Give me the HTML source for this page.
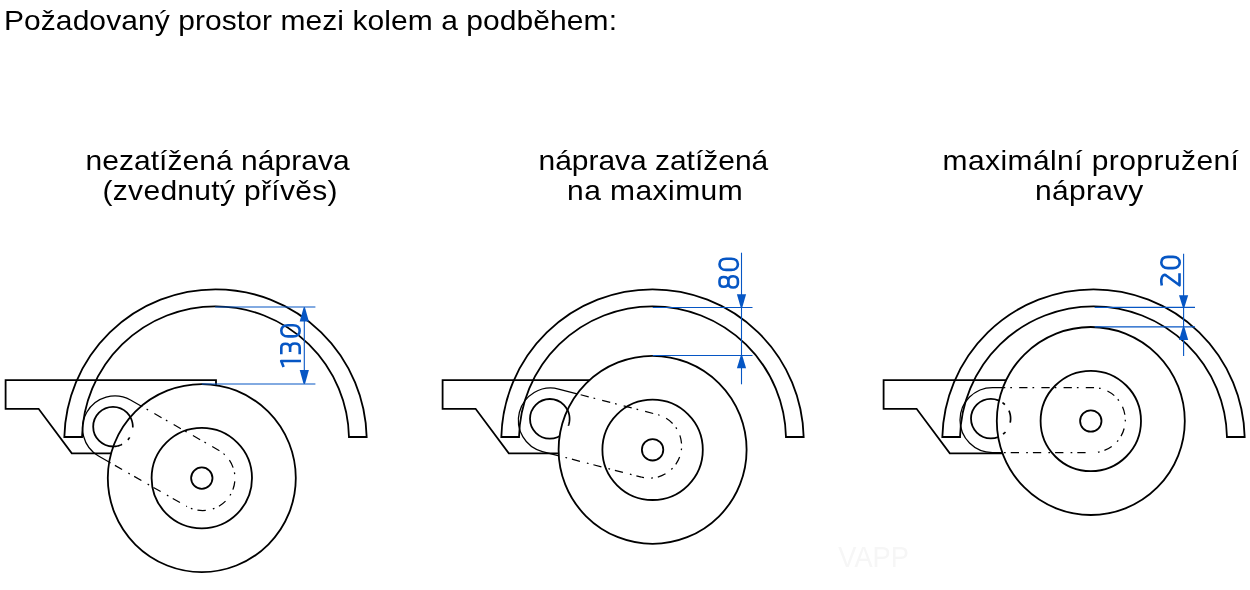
<!DOCTYPE html><html><head><meta charset="utf-8"><style>html,body{margin:0;padding:0;background:#fff;width:1250px;height:590px;overflow:hidden}svg{display:block;will-change:transform}</style></head><body>
<svg width="1250" height="590" viewBox="0 0 1250 590">
<rect width="1250" height="590" fill="#fff"/>
<g font-family="Liberation Sans, sans-serif" font-size="30" fill="#000">
<text transform="translate(4.0,30) scale(1,0.95)" x="0" y="0" textLength="612.99" lengthAdjust="spacing">Požadovaný prostor mezi kolem a podběhem:</text>
<text transform="translate(85.5,170) scale(1,0.95)" x="0" y="0" textLength="264.17" lengthAdjust="spacing">nezatížená náprava</text>
<text transform="translate(102.5,200) scale(1,0.95)" x="0" y="0" textLength="234.98" lengthAdjust="spacing">(zvednutý přívěs)</text>
<text transform="translate(538.5,170) scale(1,0.95)" x="0" y="0" textLength="229.73" lengthAdjust="spacing">náprava zatížená</text>
<text transform="translate(567.0,200) scale(1,0.95)" x="0" y="0" textLength="175.72" lengthAdjust="spacing">na maximum</text>
<text transform="translate(942.5,170) scale(1,0.95)" x="0" y="0" textLength="296.47" lengthAdjust="spacing">maximální propružení</text>
<text transform="translate(1035.0,200) scale(1,0.95)" x="0" y="0" textLength="108.37" lengthAdjust="spacing">nápravy</text>
</g>
<text x="838.3" y="567" textLength="70.5" lengthAdjust="spacingAndGlyphs" font-family="Liberation Sans, sans-serif" font-size="29" fill="#f6f6f6">VAPP</text>
<clipPath id="wc0"><circle cx="201.8" cy="478.1" r="94.0"/></clipPath>
<path d="M5.60,380.10 L216.00,380.10 L216.00,453.40 L71.80,453.40 L38.60,408.80 L5.60,408.80 Z" fill="none" stroke="#000" stroke-width="1.8" stroke-linejoin="miter"/>
<path d="M64.34,437.0 A151.2,151.2 0 0 1 366.66,437.0 L348.97,437.0 A133.5,133.5 0 0 0 82.03,437.0 Z" fill="none" stroke="#000" stroke-width="1.8" stroke-linejoin="miter"/>
<path d="M130.51,399.95 L219.01,450.45 A32.3,32.3 0 0 1 186.99,506.55 L98.49,456.05 A32.3,32.3 0 0 1 130.51,399.95 Z" fill="none" stroke="#000" stroke-width="1.25"/>
<circle cx="113" cy="426.7" r="19.8" fill="none" stroke="#000" stroke-width="1.8"/>
<circle cx="201.8" cy="478.1" r="94.0" fill="#fff" stroke="none"/>
<g clip-path="url(#wc0)">
<path d="M130.51,399.95 L219.01,450.45 A32.3,32.3 0 0 1 186.99,506.55" fill="none" stroke="#000" stroke-width="1.25" stroke-dasharray="8.3 5.0 1.7 7.2" stroke-dashoffset="16.93"/>
<path d="M186.99,506.55 L98.49,456.05 A32.3,32.3 0 0 1 130.51,399.95" fill="none" stroke="#000" stroke-width="1.25" stroke-dasharray="8.3 5.0 1.7 7.2" stroke-dashoffset="14.10"/>
<path d="M100.30,411.51 L100.97,410.97 L101.67,410.46 L102.39,409.98 L103.13,409.54 L103.89,409.12 L104.66,408.74 L105.45,408.39 L106.26,408.08 L107.08,407.81 L107.91,407.57 L108.75,407.36 L109.60,407.19 L110.45,407.06 L111.31,406.97 L112.17,406.92 L113.03,406.90 L113.90,406.92 L114.76,406.98 L115.62,407.07 L116.47,407.21 L117.32,407.38 L118.16,407.58 L118.99,407.83 L119.80,408.11 L120.61,408.42 L121.40,408.77 L122.17,409.15 L122.93,409.57 L123.67,410.02 L124.39,410.50 L125.08,411.01 L125.75,411.55 L126.40,412.13 L127.03,412.72 L127.62,413.35 L128.19,414.00 L128.73,414.67 L129.24,415.37 L129.72,416.09 L130.16,416.83 L130.58,417.59 L130.96,418.36 L131.31,419.15 L131.62,419.96 L131.89,420.78 L132.13,421.61 L132.34,422.45 L132.51,423.30 L132.64,424.15 L132.73,425.01 L132.78,425.87 L132.80,426.73 L132.78,427.60 L132.72,428.46 L132.63,429.32 L132.49,430.17 L132.32,431.02 L132.12,431.86 L131.87,432.69 L131.59,433.50 L131.28,434.31 L130.93,435.10 L130.55,435.87 L130.13,436.63 L129.68,437.37 L129.20,438.09 L128.69,438.78 L128.15,439.45 L127.57,440.10 L126.98,440.73 L126.35,441.32 L125.70,441.89 L125.03,442.43 L124.33,442.94 L123.61,443.42 L122.87,443.86 L122.11,444.28 L121.34,444.66 L120.55,445.01 L119.74,445.32 L118.92,445.59 L118.09,445.83 L117.25,446.04 L116.40,446.21 L115.55,446.34 L114.69,446.43 L113.83,446.48 L112.97,446.50 L112.10,446.48 L111.24,446.42 L110.38,446.33 L109.53,446.19 L108.68,446.02 L107.84,445.82 L107.01,445.57 L106.20,445.29 L105.39,444.98 L104.60,444.63 L103.83,444.25 L103.07,443.83 L102.33,443.38 L101.61,442.90 L100.92,442.39 L100.25,441.85 L99.60,441.27 L98.97,440.68 L98.38,440.05 L97.81,439.40 L97.27,438.73 L96.76,438.03 L96.28,437.31 L95.84,436.57 L95.42,435.81 L95.04,435.04 L94.69,434.25 L94.38,433.44 L94.11,432.62 L93.87,431.79 L93.66,430.95 L93.49,430.10" fill="none" stroke="#000" stroke-width="1.7" stroke-dasharray="12.3 10.5 3.2 7.3"/>
</g>
<circle cx="201.8" cy="478.1" r="94.0" fill="none" stroke="#000" stroke-width="1.8"/>
<circle cx="201.8" cy="478.1" r="50.2" fill="none" stroke="#000" stroke-width="1.8"/>
<circle cx="201.8" cy="478.1" r="10.7" fill="none" stroke="#000" stroke-width="1.8"/>
<clipPath id="wc1"><circle cx="652.6" cy="449.8" r="94.0"/></clipPath>
<path d="M442.60,380.10 L653.00,380.10 L653.00,453.40 L508.80,453.40 L475.60,408.80 L442.60,408.80 Z" fill="none" stroke="#000" stroke-width="1.8" stroke-linejoin="miter"/>
<path d="M501.34,437.0 A151.2,151.2 0 0 1 803.66,437.0 L785.97,437.0 A133.5,133.5 0 0 0 519.03,437.0 Z" fill="none" stroke="#000" stroke-width="1.8" stroke-linejoin="miter"/>
<path d="M558.59,389.03 L657.59,414.63 A32.3,32.3 0 0 1 641.41,477.17 L542.41,451.57 A32.3,32.3 0 0 1 558.59,389.03 Z" fill="none" stroke="#000" stroke-width="1.25"/>
<circle cx="549.8" cy="418.8" r="19.8" fill="none" stroke="#000" stroke-width="1.8"/>
<circle cx="652.6" cy="449.8" r="94.0" fill="#fff" stroke="none"/>
<g clip-path="url(#wc1)">
<path d="M558.59,389.03 L657.59,414.63 A32.3,32.3 0 0 1 641.41,477.17" fill="none" stroke="#000" stroke-width="1.25" stroke-dasharray="8.3 5.0 1.7 7.2" stroke-dashoffset="21.59"/>
<path d="M641.41,477.17 L542.41,451.57 A32.3,32.3 0 0 1 558.59,389.03" fill="none" stroke="#000" stroke-width="1.25" stroke-dasharray="8.3 5.0 1.7 7.2" stroke-dashoffset="3.10"/>
<path d="M567.12,409.20 L567.52,409.97 L567.89,410.75 L568.22,411.54 L568.52,412.35 L568.78,413.18 L569.01,414.01 L569.20,414.85 L569.36,415.70 L569.47,416.56 L569.55,417.42 L569.59,418.28 L569.60,419.15 L569.56,420.01 L569.49,420.87 L569.38,421.73 L569.24,422.58 L569.05,423.42 L568.83,424.26 L568.58,425.08 L568.28,425.90 L567.96,426.70 L567.60,427.48 L567.20,428.25 L566.77,429.00 L566.31,429.73 L565.82,430.44 L565.30,431.13 L564.74,431.79 L564.16,432.43 L563.55,433.04 L562.92,433.63 L562.26,434.19 L561.58,434.72 L560.87,435.21 L560.15,435.68 L559.40,436.12 L558.63,436.52 L557.85,436.89 L557.06,437.22 L556.25,437.52 L555.42,437.78 L554.59,438.01 L553.75,438.20 L552.90,438.36 L552.04,438.47 L551.18,438.55 L550.32,438.59 L549.45,438.60 L548.59,438.56 L547.73,438.49 L546.87,438.38 L546.02,438.24 L545.18,438.05 L544.34,437.83 L543.52,437.58 L542.70,437.28 L541.90,436.96 L541.12,436.60 L540.35,436.20 L539.60,435.77 L538.87,435.31 L538.16,434.82 L537.47,434.30 L536.81,433.74 L536.17,433.16 L535.56,432.55 L534.97,431.92 L534.41,431.26 L533.88,430.58 L533.39,429.87 L532.92,429.15 L532.48,428.40 L532.08,427.63 L531.71,426.85 L531.38,426.06 L531.08,425.25 L530.82,424.42 L530.59,423.59 L530.40,422.75 L530.24,421.90 L530.13,421.04 L530.05,420.18 L530.01,419.32 L530.00,418.45 L530.04,417.59 L530.11,416.73 L530.22,415.87 L530.36,415.02 L530.55,414.18 L530.77,413.34 L531.02,412.52 L531.32,411.70 L531.64,410.90 L532.00,410.12 L532.40,409.35 L532.83,408.60 L533.29,407.87 L533.78,407.16 L534.30,406.47 L534.86,405.81 L535.44,405.17 L536.05,404.56 L536.68,403.97 L537.34,403.41 L538.02,402.88 L538.73,402.39 L539.45,401.92 L540.20,401.48 L540.97,401.08 L541.75,400.71 L542.54,400.38 L543.35,400.08 L544.18,399.82 L545.01,399.59 L545.85,399.40 L546.70,399.24 L547.56,399.13 L548.42,399.05 L549.28,399.01 L550.15,399.00" fill="none" stroke="#000" stroke-width="1.7" stroke-dasharray="17.2 40"/>
</g>
<circle cx="652.6" cy="449.8" r="94.0" fill="none" stroke="#000" stroke-width="1.8"/>
<circle cx="652.6" cy="449.8" r="50.2" fill="none" stroke="#000" stroke-width="1.8"/>
<circle cx="652.6" cy="449.8" r="10.7" fill="none" stroke="#000" stroke-width="1.8"/>
<clipPath id="wc2"><circle cx="1090.8" cy="421" r="94.0"/></clipPath>
<path d="M883.60,380.10 L1094.00,380.10 L1094.00,453.40 L949.80,453.40 L916.60,408.80 L883.60,408.80 Z" fill="none" stroke="#000" stroke-width="1.8" stroke-linejoin="miter"/>
<path d="M942.34,437.0 A151.2,151.2 0 0 1 1244.66,437.0 L1226.97,437.0 A133.5,133.5 0 0 0 960.03,437.0 Z" fill="none" stroke="#000" stroke-width="1.8" stroke-linejoin="miter"/>
<path d="M992.50,387.50 L1092.80,387.50 A32.5,32.5 0 0 1 1092.80,452.50 L992.50,452.50 A32.5,32.5 0 0 1 992.50,387.50 Z" fill="none" stroke="#000" stroke-width="1.25"/>
<circle cx="990.8" cy="418.6" r="19.8" fill="none" stroke="#000" stroke-width="1.8"/>
<circle cx="1090.8" cy="421" r="94.0" fill="#fff" stroke="none"/>
<g clip-path="url(#wc2)">
<path d="M992.50,387.50 L1092.80,387.50 A32.5,32.5 0 0 1 1092.80,452.50" fill="none" stroke="#000" stroke-width="1.25" stroke-dasharray="8.3 5.0 1.7 7.2" stroke-dashoffset="17.73"/>
<path d="M1092.80,452.50 L992.50,452.50 A32.5,32.5 0 0 1 992.50,387.50" fill="none" stroke="#000" stroke-width="1.25" stroke-dasharray="8.3 5.0 1.7 7.2" stroke-dashoffset="15.00"/>
<path d="M980.90,401.45 L981.66,401.04 L982.43,400.66 L983.22,400.31 L984.03,399.99 L984.85,399.72 L985.68,399.47 L986.51,399.27 L987.36,399.10 L988.22,398.97 L989.07,398.88 L989.94,398.82 L990.80,398.80 L991.66,398.82 L992.53,398.88 L993.38,398.97 L994.24,399.10 L995.09,399.27 L995.92,399.47 L996.75,399.72 L997.57,399.99 L998.38,400.31 L999.17,400.66 L999.94,401.04 L1000.70,401.45 L1001.44,401.90 L1002.16,402.38 L1002.85,402.89 L1003.53,403.43 L1004.18,404.00 L1004.80,404.60 L1005.40,405.22 L1005.97,405.87 L1006.51,406.55 L1007.02,407.24 L1007.50,407.96 L1007.95,408.70 L1008.36,409.46 L1008.74,410.23 L1009.09,411.02 L1009.41,411.83 L1009.68,412.65 L1009.93,413.48 L1010.13,414.31 L1010.30,415.16 L1010.43,416.02 L1010.52,416.87 L1010.58,417.74 L1010.60,418.60 L1010.58,419.46 L1010.52,420.33 L1010.43,421.18 L1010.30,422.04 L1010.13,422.89 L1009.93,423.72 L1009.68,424.55 L1009.41,425.37 L1009.09,426.18 L1008.74,426.97 L1008.36,427.74 L1007.95,428.50 L1007.50,429.24 L1007.02,429.96 L1006.51,430.65 L1005.97,431.33 L1005.40,431.98 L1004.80,432.60 L1004.18,433.20 L1003.53,433.77 L1002.85,434.31 L1002.16,434.82 L1001.44,435.30 L1000.70,435.75 L999.94,436.16 L999.17,436.54 L998.38,436.89 L997.57,437.21 L996.75,437.48 L995.92,437.73 L995.09,437.93 L994.24,438.10 L993.38,438.23 L992.53,438.32 L991.66,438.38 L990.80,438.40 L989.94,438.38 L989.07,438.32 L988.22,438.23 L987.36,438.10 L986.51,437.93 L985.68,437.73 L984.85,437.48 L984.03,437.21 L983.22,436.89 L982.43,436.54 L981.66,436.16 L980.90,435.75 L980.16,435.30 L979.44,434.82 L978.75,434.31 L978.07,433.77 L977.42,433.20 L976.80,432.60 L976.20,431.98 L975.63,431.33 L975.09,430.65 L974.58,429.96 L974.10,429.24 L973.65,428.50 L973.24,427.74 L972.86,426.97 L972.51,426.18 L972.19,425.37 L971.92,424.55 L971.67,423.72 L971.47,422.89 L971.30,422.04 L971.17,421.18 L971.08,420.33 L971.02,419.46 L971.00,418.60" fill="none" stroke="#000" stroke-width="1.7" stroke-dasharray="12.3 10.5 3.2 7.3"/>
</g>
<circle cx="1090.8" cy="421" r="94.0" fill="none" stroke="#000" stroke-width="1.8"/>
<circle cx="1090.8" cy="421" r="50.2" fill="none" stroke="#000" stroke-width="1.8"/>
<circle cx="1090.8" cy="421" r="10.7" fill="none" stroke="#000" stroke-width="1.8"/>
<g stroke="#0656c4" stroke-width="1.1" fill="none">
<line x1="215.1" y1="307.0" x2="315.4" y2="307.0"/>
<line x1="201.8" y1="384.0" x2="315.4" y2="384.0"/>
<line x1="304.3" y1="307.0" x2="304.3" y2="384.0"/>
</g>
<path d="M303.40,308.30 L305.20,308.30 L308.90,321.50 L299.70,321.50 Z" fill="#0656c4"/>
<path d="M303.40,383.20 L305.20,383.20 L308.90,370.00 L299.70,370.00 Z" fill="#0656c4"/>
<g transform="translate(301.0,367.9) rotate(-90)" fill="none" stroke="#0656c4" stroke-width="2.6" stroke-linecap="butt" stroke-linejoin="round"><path transform="translate(0,0)" d="M1.0,-17.4 L6.95,-19.8 L6.95,0"/><path transform="translate(13.3,0)" d="M0.4,-19.7 L7,-19.7 C9.6,-19.7 10.8,-18.1 10.8,-15.6 C10.8,-12.6 9.3,-10.9 6.6,-10.9 L2.6,-10.9 M6.6,-10.9 C9.8,-10.9 11.1,-9 11.1,-6.1 C11.1,-3 9.6,-1.3 7,-1.3 L0.4,-1.3"/><path transform="translate(30.2,0)" d="M1.3,-13 L1.3,-8 C1.3,-3.6 3.5,-1.3 6.9,-1.3 C10.3,-1.3 12.5,-3.6 12.5,-8 L12.5,-13 C12.5,-17.4 10.3,-19.7 6.9,-19.7 C3.5,-19.7 1.3,-17.4 1.3,-13 Z"/></g>
<g stroke="#0656c4" stroke-width="1.1" fill="none">
<line x1="652.7" y1="307.5" x2="752.5" y2="307.5"/>
<line x1="652.7" y1="355.5" x2="752.5" y2="355.5"/>
<line x1="741.5" y1="252.7" x2="741.5" y2="384.3"/>
</g>
<path d="M740.60,307.00 L742.40,307.00 L746.10,294.30 L736.90,294.30 Z" fill="#0656c4"/>
<path d="M740.60,356.00 L742.40,356.00 L746.10,368.30 L736.90,368.30 Z" fill="#0656c4"/>
<g transform="translate(739.2,288.8) rotate(-90)" fill="none" stroke="#0656c4" stroke-width="2.6" stroke-linecap="butt" stroke-linejoin="round"><path transform="translate(0,0)" d="M6,-19.7 L7.8,-19.7 C10.3,-19.7 11.8,-18.2 11.8,-15.6 C11.8,-12.6 10.2,-10.8 7.6,-10.8 L6.2,-10.8 C3.6,-10.8 2,-12.6 2,-15.6 C2,-18.2 3.5,-19.7 6,-19.7 Z M5.8,-10.8 L8,-10.8 C10.9,-10.8 12.5,-9 12.5,-6 C12.5,-3 10.9,-1.3 8,-1.3 L5.8,-1.3 C2.9,-1.3 1.3,-3 1.3,-6 C1.3,-9 2.9,-10.8 5.8,-10.8 Z"/><path transform="translate(17.6,0)" d="M1.3,-13 L1.3,-8 C1.3,-3.6 3.5,-1.3 6.9,-1.3 C10.3,-1.3 12.5,-3.6 12.5,-8 L12.5,-13 C12.5,-17.4 10.3,-19.7 6.9,-19.7 C3.5,-19.7 1.3,-17.4 1.3,-13 Z"/></g>
<g stroke="#0656c4" stroke-width="1.1" fill="none">
<line x1="1094.7" y1="307.4" x2="1195.0" y2="307.4"/>
<line x1="1094.7" y1="326.9" x2="1195.0" y2="326.9"/>
<line x1="1183.6" y1="253.8" x2="1183.6" y2="356.0"/>
</g>
<path d="M1182.70,307.00 L1184.50,307.00 L1188.20,295.30 L1179.00,295.30 Z" fill="#0656c4"/>
<path d="M1182.70,327.40 L1184.50,327.40 L1188.20,340.00 L1179.00,340.00 Z" fill="#0656c4"/>
<g transform="translate(1181.0,286.6) rotate(-90)" fill="none" stroke="#0656c4" stroke-width="2.6" stroke-linecap="butt" stroke-linejoin="round"><path transform="translate(0,0)" d="M1.0,-19.2 C4.5,-19.9 9.5,-19.9 11.3,-17.6 C12,-16.5 11.6,-15.4 10.8,-14.5 L1.3,-1.5 L13.4,-1.5"/><path transform="translate(17.2,0)" d="M1.3,-13 L1.3,-8 C1.3,-3.6 3.5,-1.3 6.9,-1.3 C10.3,-1.3 12.5,-3.6 12.5,-8 L12.5,-13 C12.5,-17.4 10.3,-19.7 6.9,-19.7 C3.5,-19.7 1.3,-17.4 1.3,-13 Z"/></g>
</svg></body></html>
